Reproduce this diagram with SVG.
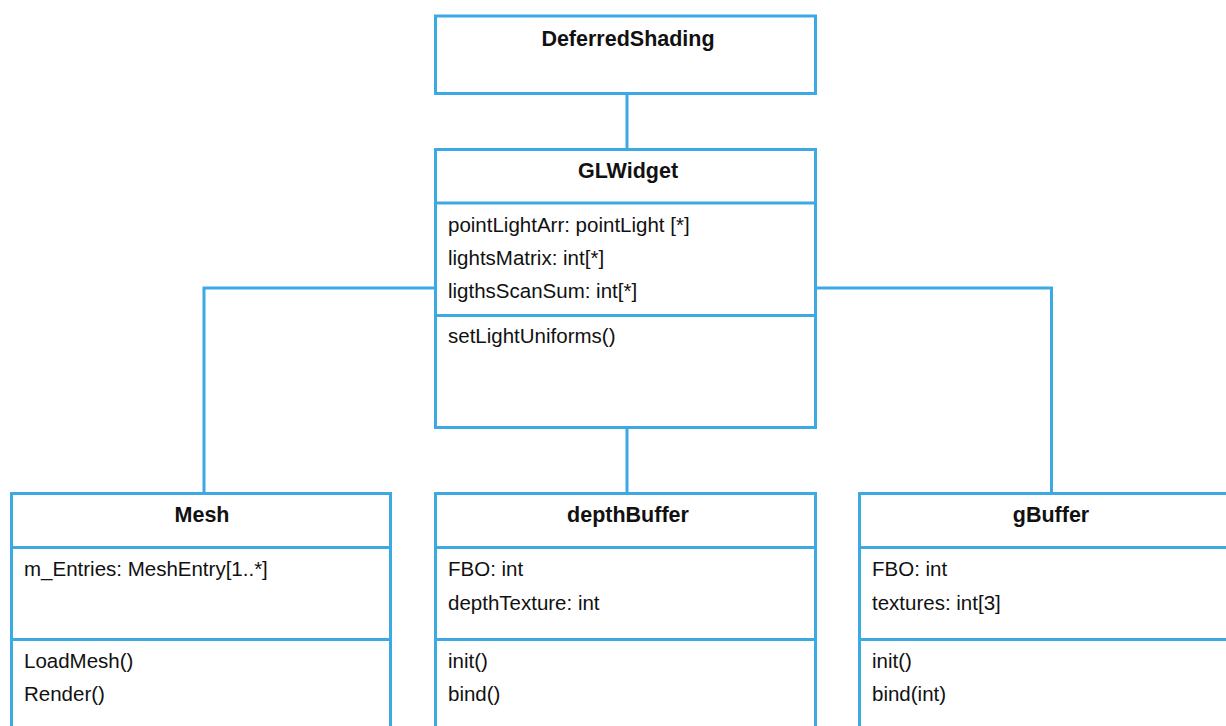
<svg xmlns="http://www.w3.org/2000/svg" width="1226" height="726" viewBox="0 0 1226 726">
<style>
.box{fill:#ffffff;stroke:#3ca9e5;stroke-width:3}
.sep{stroke:#3ca9e5;stroke-width:3;fill:none}
.conn{stroke:#3ca9e5;stroke-width:3;fill:none}
.title{font-family:"Liberation Sans",Arial,sans-serif;font-size:21.5px;font-weight:bold;fill:#111;text-anchor:middle}
.txt{font-family:"Liberation Sans",Arial,sans-serif;font-size:20.5px;fill:#111}
</style>
<rect width="1226" height="726" fill="#ffffff"/>
<g id="connectors">
<line class="conn" x1="627" y1="93" x2="627" y2="150"/>
<polyline class="conn" points="435,288 204,288 204,493"/>
<polyline class="conn" points="813,288 1051.5,288 1051.5,493"/>
<line class="conn" x1="627" y1="427" x2="627" y2="493"/>
</g>
<g id="DeferredShading">
<rect class="box" x="435.5" y="16" width="380" height="77.5"/>
<text class="title" x="628" y="46">DeferredShading</text>
</g>
<g id="GLWidget">
<rect class="box" x="435.5" y="149.5" width="380" height="278"/>
<line class="sep" x1="435.5" y1="203" x2="815.5" y2="203"/>
<line class="sep" x1="435.5" y1="315.5" x2="815.5" y2="315.5"/>
<text class="title" x="628" y="178">GLWidget</text>
<text class="txt" x="448" y="232">pointLightArr: pointLight [*]</text>
<text class="txt" x="448" y="265">lightsMatrix: int[*]</text>
<text class="txt" x="448" y="298">ligthsScanSum: int[*]</text>
<text class="txt" x="448" y="343">setLightUniforms()</text>
</g>
<g id="Mesh">
<rect class="box" x="11.5" y="493.5" width="379" height="260"/>
<line class="sep" x1="11.5" y1="547.5" x2="390.5" y2="547.5"/>
<line class="sep" x1="11.5" y1="639.5" x2="390.5" y2="639.5"/>
<text class="title" x="202" y="522">Mesh</text>
<text class="txt" x="24" y="576">m_Entries: MeshEntry[1..*]</text>
<text class="txt" x="24" y="668">LoadMesh()</text>
<text class="txt" x="24" y="701">Render()</text>
</g>
<g id="depthBuffer">
<rect class="box" x="435.5" y="493.5" width="380" height="260"/>
<line class="sep" x1="435.5" y1="547.5" x2="815.5" y2="547.5"/>
<line class="sep" x1="435.5" y1="639.5" x2="815.5" y2="639.5"/>
<text class="title" x="628" y="522">depthBuffer</text>
<text class="txt" x="448" y="576">FBO: int</text>
<text class="txt" x="448" y="610">depthTexture: int</text>
<text class="txt" x="448" y="668">init()</text>
<text class="txt" x="448" y="701">bind()</text>
</g>
<g id="gBuffer">
<rect class="box" x="859.5" y="493.5" width="380" height="260"/>
<line class="sep" x1="859.5" y1="547.5" x2="1239.5" y2="547.5"/>
<line class="sep" x1="859.5" y1="639.5" x2="1239.5" y2="639.5"/>
<text class="title" x="1051" y="522">gBuffer</text>
<text class="txt" x="872" y="576">FBO: int</text>
<text class="txt" x="872" y="610">textures: int[3]</text>
<text class="txt" x="872" y="668">init()</text>
<text class="txt" x="872" y="701">bind(int)</text>
</g>
</svg>
